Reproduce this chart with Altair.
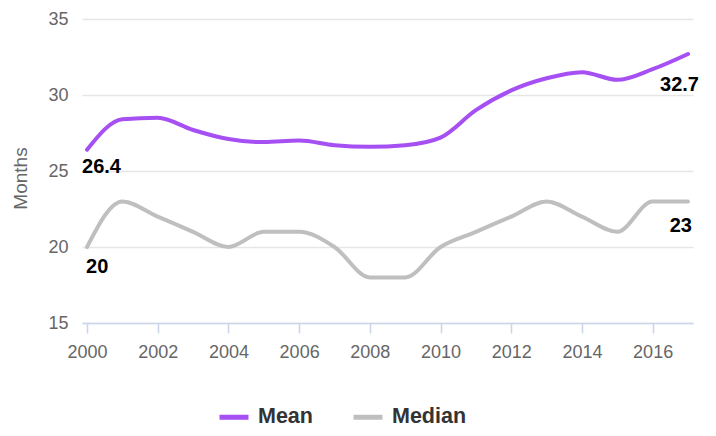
import altair as alt
import pandas as pd

years = list(range(2000, 2018))
mean = [26.4, 28.4, 28.5, 27.7, 27.1, 26.9, 27.0, 26.7, 26.6, 26.7, 27.2, 29.0, 30.3, 31.1, 31.5, 31.0, 31.7, 32.7]
median = [20, 23, 22, 21, 20, 21, 21, 20, 18, 18, 20, 21, 22, 23, 22, 21, 23, 23]
series_names = ["Mean", "Median"]
colors = ["#a64ff2", "#bfbfbf"]
y_ticks = [15, 20, 25, 30, 35]
x_ticks = list(range(2000, 2017, 2))

rows = []
for y, a, b in zip(years, mean, median):
    rows.append({"year": y, "series": "Mean", "value": a})
    rows.append({"year": y, "series": "Median", "value": b})
df = pd.DataFrame(rows)

FONT = "Liberation Sans"

x = alt.X("year:Q", scale=alt.Scale(domain=[1999.858, 2017.142], nice=False, zero=False),
          axis=alt.Axis(values=x_ticks, format="d", title=None, grid=False,
                        domainColor="#ccd6eb", domainWidth=1.6, tickColor="#ccd6eb",
                        tickWidth=1.6, tickSize=10, labelFontSize=18, labelColor="#666666",
                        labelPadding=10, labelFont=FONT))
y = alt.Y("value:Q", scale=alt.Scale(domain=[15, 35], nice=False, zero=False),
          axis=alt.Axis(values=y_ticks, title="Months", grid=True, gridColor="#e6e6e6",
                        gridWidth=1.6, domain=False, ticks=False, labelFontSize=18,
                        labelColor="#666666", labelPadding=14, labelFont=FONT,
                        titleFont=FONT, titleFontSize=19, titleColor="#666666",
                        titleFontWeight="normal", titlePadding=17, titleY=159))

lines = alt.Chart(df).mark_line(interpolate="monotone", strokeWidth=4, strokeCap="round").encode(
    x=x, y=y,
    color=alt.Color("series:N", scale=alt.Scale(domain=series_names, range=colors),
                    legend=alt.Legend(title=None, orient="none", direction="horizontal",
                                      legendX=135, legendY=381, symbolType="stroke",
                                      symbolStrokeWidth=5, symbolSize=841, labelFontSize=21.5,
                                      labelFont=FONT, labelFontWeight="bold", labelColor="#333333",
                                      labelOffset=7, columnPadding=30)),
)

def label(yr, ser, align, dx, dy):
    return alt.Chart(df).transform_filter(
        (alt.datum.year == yr) & (alt.datum.series == ser)
    ).mark_text(align=align, baseline="top", dx=dx, dy=dy, fontSize=20, fontWeight="bold",
                font=FONT, color="#000000").encode(
        x=alt.X("year:Q"), y=alt.Y("value:Q"), text=alt.Text("value:Q"))

chart = alt.layer(
    lines,
    label(2000, "Mean", "left", -5, 7),
    label(2000, "Median", "left", -1, 10),
    label(2017, "Mean", "right", 11, 21),
    label(2017, "Median", "right", 4, 15),
).properties(
    width=611, height=304,
    autosize=alt.AutoSizeParams(type="none"),
    padding={"left": 74, "top": 11, "right": 15, "bottom": 105},
).configure_view(stroke=None)

chart.save("out.html", embed_options={"renderer": "svg", "actions": False})
